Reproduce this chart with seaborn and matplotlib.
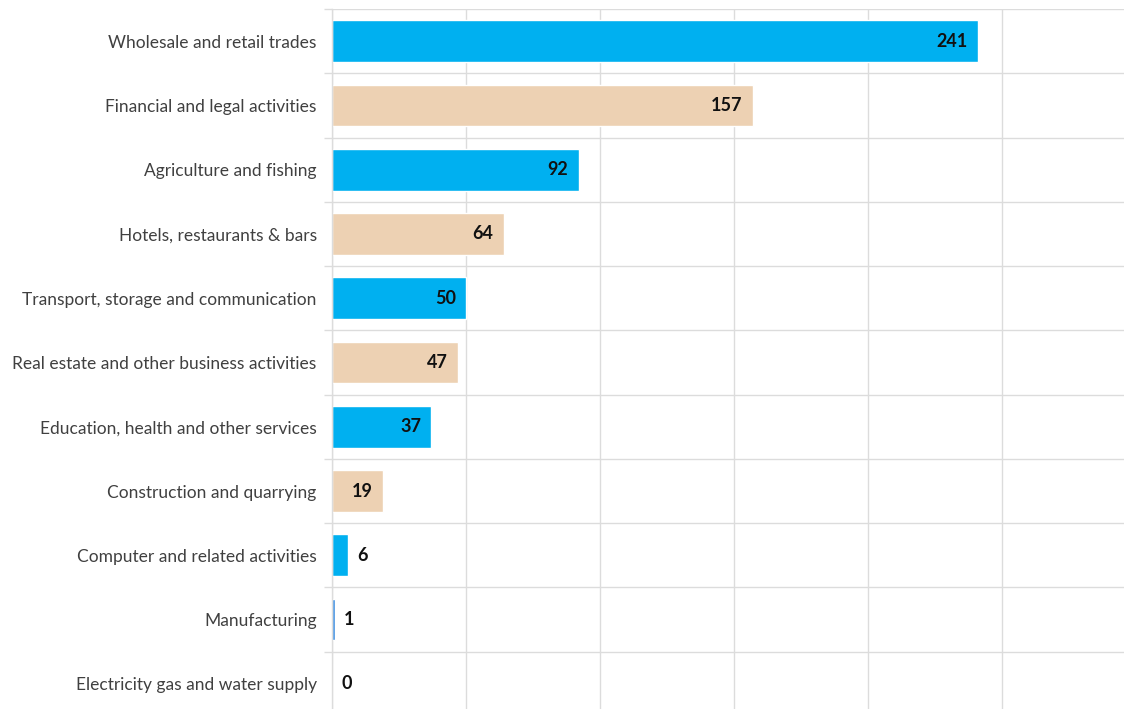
import matplotlib
matplotlib.use("Agg")
import matplotlib.pyplot as plt
import seaborn as sns
import pandas as pd
import numpy as np

categories = [
    "Wholesale and retail trades",
    "Financial and legal activities",
    "Agriculture and fishing",
    "Hotels, restaurants & bars",
    "Transport, storage and communication",
    "Real estate and other business activities",
    "Education, health and other services",
    "Construction and quarrying",
    "Computer and related activities",
    "Manufacturing",
    "Electricity gas and water supply",
]
values = [241, 157, 92, 64, 50, 47, 37, 19, 6, 1, 0]
BLUE, TAN = "#00B0F0", "#EDD1B3"
colors = [BLUE, TAN, BLUE, TAN, BLUE, TAN, BLUE, TAN, BLUE, "#3D8FE0", BLUE]

df = pd.DataFrame({"category": categories, "value": values})

sns.set_theme(style="white")
plt.rcParams["font.family"] = ["Lato", "DejaVu Sans"]

fig = plt.figure(figsize=(11.24, 7.09), dpi=100)
ax = fig.add_axes([332 / 1124, 1 - 716 / 709, 1 - 332 / 1124, 707 / 709])

sns.barplot(data=df, y="category", x="value", hue="category",
            palette=colors, order=categories, hue_order=categories,
            orient="h", width=0.65, legend=False, ax=ax, saturation=1)

ax.set_xlim(0, 295.5)
ax.set_ylim(len(categories) - 0.5, -0.5)
ax.set_xlabel("")
ax.set_ylabel("")

ax.set_xticks([0, 50, 100, 150, 200, 250])
ax.set_xticklabels([])
ax.tick_params(axis="x", length=0)
ax.xaxis.grid(True, color="#DCDCDC", linewidth=1)
ax.set_yticks(np.arange(-0.5, len(categories), 1.0), minor=True)
ax.yaxis.grid(True, which="minor", color="#DCDCDC", linewidth=1)
ax.tick_params(axis="y", which="minor", length=6, color="#DCDCDC", width=1, left=True)
ax.tick_params(axis="y", which="major", length=0, pad=11, labelsize=12.5, labelcolor="#404040")
ax.set_axisbelow(True)

for s in ["top", "right", "bottom"]:
    ax.spines[s].set_visible(False)
ax.spines["left"].set_color("#DCDCDC")
ax.spines["left"].set_linewidth(1)

for i, v in enumerate(values):
    if v >= 15:
        ax.text(v - 3.8, i, str(v), ha="right", va="center", fontsize=13,
                fontweight="bold", color="#111111")
    else:
        ax.text(v + 3.5, i, str(v), ha="left", va="center", fontsize=13,
                fontweight="bold", color="#111111")

fig.savefig("out.png", dpi=100)
